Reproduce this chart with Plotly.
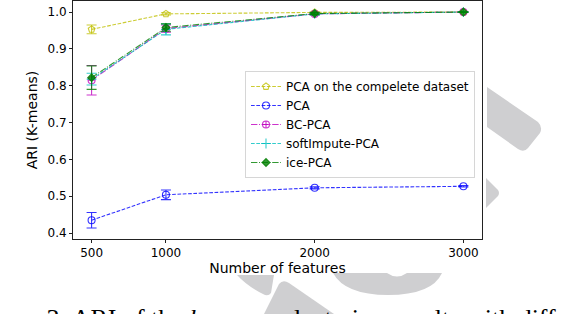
import plotly.graph_objects as go

# ---- data ----
features = [500, 1000, 2000, 3000]
series_names = ["PCA on the compelete dataset", "PCA", "BC-PCA", "softImpute-PCA", "ice-PCA"]
pca_complete = [0.953, 0.995, 0.999, 1.000]
pca_complete_err = [0.012, 0.003, 0.001, 0.001]
pca = [0.435, 0.504, 0.523, 0.527]
pca_err = [0.021, 0.013, 0.003, 0.002]
bc_pca = [0.815, 0.955, 0.995, 1.000]
bc_pca_err = [0.040, 0.010, 0.003, 0.001]
soft_pca = [0.818, 0.953, 0.995, 1.000]
soft_pca_err = [0.016, 0.015, 0.003, 0.001]
ice_pca = [0.822, 0.958, 0.996, 1.000]
ice_pca_err = [0.032, 0.010, 0.003, 0.001]
y_ticks = [0.4, 0.5, 0.6, 0.7, 0.8, 0.9, 1.0]
caption = "Figure 3: ARI of the <i>k</i>-means clustering results with different"

# ---- style ----
W, H = 576, 314
L, R, T, B = 73, 482, 1, 239  # plot area in pixels
def px(x): return (x - L) / (R - L)
def py(y): return (B - y) / (B - T)

styles = [
    dict(color="rgba(191,191,0,0.8)", dash="3.7px,1.6px", symbol="pentagon-open", size=7),
    dict(color="rgba(0,0,255,0.8)", dash="3.7px,1.6px", symbol="circle-open", size=7),
    dict(color="rgba(191,0,191,0.8)", dash="6.4px,1.6px,1px,1.6px", symbol="circle-cross-open", size=7),
    dict(color="rgba(0,191,191,0.8)", dash="3.7px,1.6px", symbol="cross-thin-open", size=7),
    dict(color="rgba(0,128,0,0.8)", dash="6.4px,1.6px,1px,1.6px", symbol="diamond", size=6),
]
values = [pca_complete, pca, bc_pca, soft_pca, ice_pca]
errors = [pca_complete_err, pca_err, bc_pca_err, soft_pca_err, ice_pca_err]

fig = go.Figure()
for name, v, e, s in zip(series_names, values, errors, styles):
    fig.add_trace(go.Scatter(
        x=features, y=v, name=name, mode="lines+markers",
        line=dict(color=s["color"], width=1.1, dash=s["dash"]),
        marker=dict(symbol=s["symbol"], size=s["size"], color=s["color"],
                    line=dict(color=s["color"], width=1.1)),
        error_y=dict(type="data", array=e, visible=True, color=s["color"],
                     thickness=1.1, width=5),
    ))

axis_common = dict(showline=True, linecolor="#222", linewidth=1, mirror=True,
                   ticks="outside", ticklen=3, tickcolor="#222", showgrid=False,
                   zeroline=False, automargin=False,
                   tickfont=dict(family="DejaVu Sans", size=12, color="black"))
fig.update_xaxes(range=[375, 3125], tickvals=features, ticktext=[str(f) for f in features],
                 title=dict(text="Number of features", font=dict(family="DejaVu Sans", size=14, color="black"),
                            standoff=0),
                 **axis_common)
fig.update_yaxes(range=[0.384, 1.030], tickvals=y_ticks, tickformat=".1f",
                 title=dict(text="ARI (K-means)", font=dict(family="DejaVu Sans", size=14, color="black"),
                            standoff=6),
                 **axis_common)

# watermark shapes (page decoration), given in pixels
def path_px(pts):
    out = []
    for cmd, coords in pts:
        c = []
        for i in range(0, len(coords), 2):
            c.append(f"{px(coords[i]):.4f},{py(coords[i+1]):.4f}")
        out.append(cmd + " " + " ".join(c))
    return " ".join(out) + " Z"

wm = "#cfcfd1"
wm_paths = [
    [("M", [487, 87]), ("L", [538, 122]), ("Q", [543, 127, 540, 133]), ("L", [528, 148]),
     ("Q", [524, 153, 518, 149]), ("L", [487, 127])],
    [("M", [486, 178]), ("L", [498, 190]), ("Q", [500, 193, 498, 196]), ("L", [486, 208])],
    [("M", [237, 275]), ("L", [274, 275]), ("L", [271, 293]), ("Q", [268, 297, 263, 294]),
     ("Q", [247, 286, 237, 275])],
    [("M", [264, 314]), ("L", [279, 284]), ("Q", [283, 279, 289, 283]), ("L", [334, 314])],
    [("M", [333, 273]), ("L", [387, 273]), ("Q", [397, 280, 407, 273]), ("L", [442, 273]),
     ("Q", [432, 295, 388, 295]), ("Q", [345, 295, 333, 273])],
]
shapes = [dict(type="path", xref="paper", yref="paper", path=path_px(p),
               fillcolor=wm, line=dict(width=0), layer="above") for p in wm_paths]

fig.update_layout(
    width=W, height=H,
    margin=dict(l=L, r=W - R, t=T, b=H - B, autoexpand=False),
    paper_bgcolor="white", plot_bgcolor="white",
    showlegend=True,
    legend=dict(x=px(245), y=py(71), xanchor="left", yanchor="top",
                bgcolor="rgba(255,255,255,0.9)", bordercolor="#d6d6d6", borderwidth=1,
                font=dict(family="DejaVu Sans", size=12, color="black"),
                tracegroupgap=0, itemwidth=30),
    shapes=shapes,
    annotations=[dict(text=caption, xref="paper", yref="paper", x=px(-30), y=py(302),
                      xanchor="left", yanchor="top", showarrow=False,
                      font=dict(family="Liberation Serif", size=26, color="black"))],
)

fig.write_html("out.html", config={"displayModeBar": False},
               post_script="document.body.style.margin='0';document.body.style.overflow='hidden';")
